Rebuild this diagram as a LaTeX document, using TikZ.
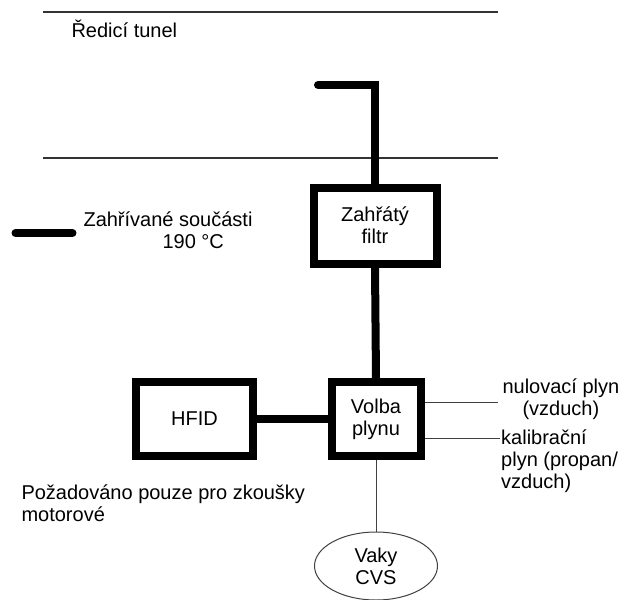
\documentclass[tikz,border=0pt]{standalone}
\usepackage{fontspec}
\setmainfont{Liberation Sans}
\usetikzlibrary{shapes.geometric}

\tikzset{
  every node/.style={font=\fontsize{20}{22}\selectfont},
  heatbox/.style={draw, line width=8pt, rectangle, align=center},
  pipe/.style={line width=8pt, line cap=round},
  thinline/.style={line width=1pt, black!75},
  wall/.style={line width=1.2pt, black!80}
}

\begin{document}
\begin{tikzpicture}[x=1pt, y=-1pt]
  \useasboundingbox (0,0) rectangle (625,600);
  % dilution tunnel walls
  \draw[wall] (43,12) -- (498,12);
  \draw[wall] (43,158) -- (498,158);
  \node[anchor=west] (tunel) at (68,29) {Ředicí tunel};
  % legend
  \coordinate (legA) at (15.5,233);
  \coordinate (legB) at (72.5,233);
  \draw[pipe] (legA) -- (legB);
  \node[anchor=west, align=left] (legtext) at (80,230)
    {Zahřívané součásti\\\hspace*{79pt}190 °C};
  % boxes
  \node[heatbox, minimum width=123pt, minimum height=76pt] (filtr) at (375,225.5)
    {Zahřátý\\filtr};
  \node[heatbox, minimum width=89pt, minimum height=74pt] (volba) at (376,419)
    {Volba\\plynu};
  \node[heatbox, minimum width=117pt, minimum height=74pt] (hfid) at (194.5,419)
    {HFID};
  \node[draw, thinline, ellipse, minimum width=123pt, minimum height=68pt,
    align=center, text=black] (vaky) at (376,566) {Vaky\\CVS};
  % heated lines
  \coordinate (sonda) at (318,85);
  \draw[pipe] (sonda) -| (filtr.north);
  \draw[pipe, line cap=butt] (filtr.south) -- (volba.north);
  \draw[pipe, line cap=butt] (hfid.east) -- (volba.west);
  % gas inlets
  \coordinate (nul) at (498,402);
  \coordinate (kal) at (500,438);
  \draw[thinline] (volba.east |- nul) -- (nul);
  \draw[thinline] (volba.east |- kal) -- (kal);
  \draw[thinline] (volba.south) -- (vaky.north);
  \node[anchor=west, align=center] (nultext) at (499,399)
    {nulovací plyn\\(vzduch)};
  \node[anchor=west, align=left, inner sep=1pt] (kaltext) at (500,461)
    {kalibrační\\plyn (propan/\\vzduch)};
  \node[anchor=west, align=left] (pozn) at (18,503)
    {Požadováno pouze pro zkoušky\\motorové};
\end{tikzpicture}
\end{document}
